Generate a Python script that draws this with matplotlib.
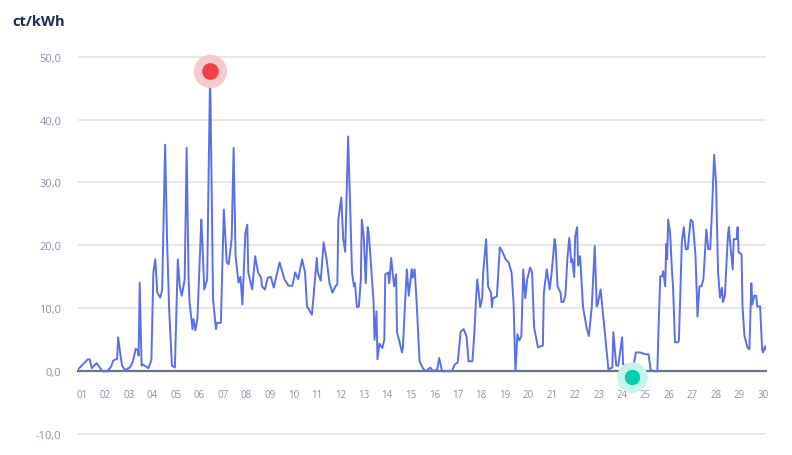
import matplotlib.pyplot as plt
import numpy as np

# hourly price samples (hour since start of month, ct/kWh)
hours = [
  0, 10, 12, 14, 19, 25, 30, 34, 36, 40,
  41, 43, 45, 48, 53, 56, 59, 61, 62, 63,
  65, 66, 72, 75, 77, 79, 81, 84, 86, 89,
  91, 93, 96, 99, 102, 104, 106, 109, 111, 113,
  114, 117, 118, 120, 122, 126, 127, 129, 132, 133,
  135, 138, 141, 142, 146, 149, 152, 154, 157, 159,
  161, 164, 166, 168, 171, 173, 174, 178, 181, 184,
  187, 188, 191, 194, 197, 200, 206, 211, 215, 219,
  222, 225, 229, 232, 234, 239, 241, 244, 245, 248,
  251, 254, 257, 260, 263, 265, 266, 269, 271, 273,
  276, 278, 280, 282, 283, 285, 287, 289, 290, 292,
  294, 296, 297, 299, 302, 303, 305, 306, 308, 311,
  313, 314, 317, 318, 320, 322, 323, 325, 326, 329,
  331, 332, 334, 336, 338, 341, 342, 344, 346, 349,
  352, 355, 360, 363, 367, 369, 372, 382, 385, 388,
  391, 394, 397, 399, 403, 405, 407, 408, 411, 413,
  414, 417, 419, 422, 423, 424, 428, 431, 434, 437,
  440, 443, 445, 447, 449, 451, 453, 455, 457, 459,
  462, 464, 466, 470, 475, 476, 479, 482, 484, 487,
  488, 490, 493, 494, 496, 498, 500, 502, 504, 505,
  507, 508, 510, 511, 513, 516, 517, 520, 522, 525,
  528, 530, 531, 534, 537, 541, 542, 546, 547, 550,
  552, 556, 557, 561, 566, 570, 574, 580, 583, 585,
  588, 592, 593, 595, 597, 598, 600, 601, 602, 603,
  605, 607, 608, 610, 613, 614, 617, 619, 621, 623,
  626, 628, 629, 631, 633, 635, 637, 639, 642, 644,
  646, 648, 650, 652, 654, 656, 658, 659, 661, 664,
  665, 667, 669, 670, 673, 674, 675, 678, 679, 681,
  684, 686, 688, 689, 691, 693, 694, 697, 699, 700,
  702, 703,
]
prices = [
  0.3, 1.9, 1.9, 0.5, 1.3, 0.0, 0.0, 0.8, 1.7, 2.0,
  5.4, 3.0, 0.9, 0.2, 0.6, 1.5, 3.6, 3.3, 2.5, 14.1,
  0.9, 1.1, 0.5, 1.8, 15.7, 17.8, 12.5, 11.7, 12.9, 36.0,
  21.0, 10.3, 0.9, 0.6, 17.8, 13.5, 12.0, 14.6, 35.5, 14.6,
  11.0, 6.7, 8.3, 6.5, 8.3, 24.1, 21.0, 13.0, 14.6, 26.2,
  47.7, 11.4, 6.7, 7.7, 7.7, 25.7, 17.3, 17.0, 21.0, 35.5,
  18.3, 14.1, 15.0, 10.6, 22.0, 23.3, 15.7, 13.0, 18.3, 15.7,
  14.9, 13.5, 13.0, 14.9, 15.0, 13.3, 17.3, 14.6, 13.6, 13.6,
  15.7, 14.6, 17.8, 15.7, 10.3, 9.0, 12.5, 18.0, 15.7, 14.4,
  20.5, 17.8, 14.0, 12.5, 13.5, 13.8, 24.1, 27.6, 21.0, 19.0,
  37.3, 26.2, 15.7, 13.5, 14.0, 10.2, 10.3, 14.6, 24.1, 21.4,
  14.0, 22.9, 22.0, 17.8, 11.0, 5.0, 9.5, 1.9, 4.4, 3.7,
  5.0, 15.4, 15.7, 14.0, 18.0, 15.0, 13.5, 15.4, 6.2, 4.4,
  3.0, 3.7, 10.3, 16.2, 12.0, 16.2, 14.9, 16.2, 11.0, 1.6,
  0.6, 0.0, 0.6, 0.0, 0.3, 2.1, 0.0, 0.0, 1.1, 1.4,
  6.3, 6.7, 5.6, 1.6, 1.6, 6.1, 12.2, 14.6, 10.2, 11.6,
  15.7, 21.0, 13.5, 12.5, 10.2, 11.6, 11.9, 19.7, 18.9, 17.8,
  17.3, 15.7, 11.0, 0.0, 5.9, 4.9, 5.6, 16.2, 11.6, 14.6,
  16.5, 15.7, 7.0, 3.8, 4.1, 12.5, 16.2, 13.0, 15.7, 21.0,
  20.0, 13.5, 12.5, 11.0, 11.0, 12.0, 17.8, 21.2, 17.3, 17.8,
  15.0, 21.4, 22.9, 16.8, 18.3, 10.3, 9.3, 6.7, 5.6, 10.3,
  19.9, 10.3, 10.6, 13.0, 8.3, 1.9, 0.3, 0.6, 6.2, 0.9,
  0.9, 5.4, 1.1, 0.6, -0.9, 3.0, 3.0, 2.7, 2.7, 0.3,
  0.0, 0.0, 6.0, 15.1, 15.1, 15.9, 13.5, 20.2, 17.8, 24.1,
  22.0, 15.7, 13.5, 4.6, 4.6, 4.9, 20.5, 22.9, 19.4, 19.4,
  24.1, 23.8, 22.2, 18.3, 8.7, 13.5, 13.5, 14.6, 22.5, 19.4,
  19.4, 26.2, 34.4, 29.8, 15.7, 11.7, 13.3, 11.0, 12.0, 21.4,
  22.9, 19.4, 16.2, 21.0, 21.0, 22.9, 18.9, 18.6, 10.3, 5.6,
  3.8, 3.5, 14.0, 10.6, 12.0, 12.0, 10.3, 10.3, 3.5, 3.0,
  4.0, 3.5,
]
day_labels = ['%02d' % d for d in range(1, 31)]
y_ticks = [-10, 0, 10, 20, 30, 40, 50]

plt.rcParams['font.family'] = ['Open Sans', 'DejaVu Sans']

fig = plt.figure(figsize=(7.92, 4.56), dpi=100)
ax = fig.add_axes([78 / 792, 1 - 445 / 456, 688 / 792, 400 / 456])

ax.plot(hours, prices, color='#5b6fe6', linewidth=1.4, zorder=3, solid_joinstyle='round')

# highlight max and min
i_max = int(np.argmax(prices))
i_min = int(np.argmin(prices))
ax.plot(hours[i_max], prices[i_max], 'o', markersize=23, color='#f7c9cd', zorder=4)
ax.plot(hours[i_max], prices[i_max], 'o', markersize=11, color='#ef3e4c', zorder=5)
ax.plot(hours[i_min], prices[i_min], 'o', markersize=21, color='#c6f3ec', zorder=4)
ax.plot(hours[i_min], prices[i_min], 'o', markersize=10, color='#00cfae', zorder=5)

ax.set_xlim(0, 703)
ax.set_ylim(-11.55, 52.0)

ax.set_yticks(y_ticks)
ax.set_yticklabels([('%.1f' % v).replace('.', ',') for v in y_ticks])
ax.set_xticks([24 * i + 4 for i in range(30)])
ax.set_xticklabels(day_labels)

ax.yaxis.grid(True, color='#e1e1e1', linewidth=1.1)
ax.set_axisbelow(True)

for side in ['top', 'right', 'left']:
  ax.spines[side].set_visible(False)
ax.spines['bottom'].set_position(('data', 0))
ax.spines['bottom'].set_color('#6c728c')
ax.spines['bottom'].set_linewidth(1.6)
ax.spines['bottom'].set_zorder(2)

ax.tick_params(axis='y', length=0, pad=12, labelsize=8, labelcolor='#8a90a8')
ax.tick_params(axis='x', length=0, pad=13, labelsize=7, labelcolor='#8a90a8')

fig.text(12 / 792, 1 - 22 / 456, 'ct/kWh', fontsize=10.5, fontweight='bold',
         color='#1c2b58', ha='left', va='center')

fig.savefig('out.png', dpi=100)
